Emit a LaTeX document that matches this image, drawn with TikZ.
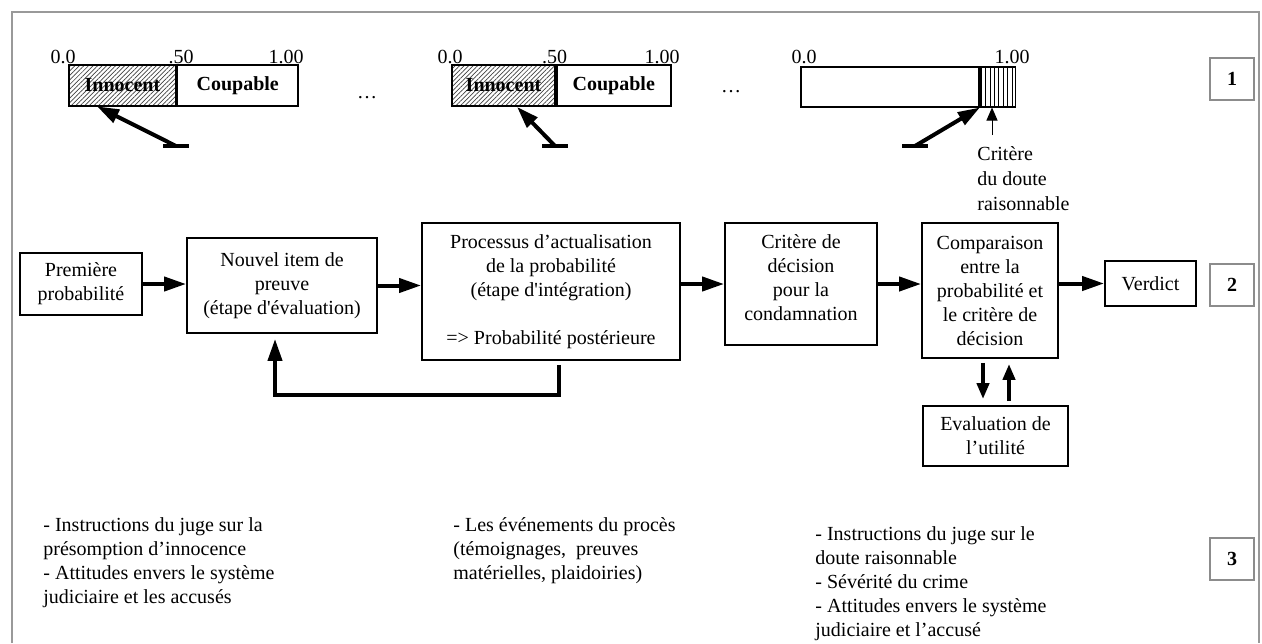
\documentclass[tikz,border=0pt]{standalone}
\usepackage{fontspec}
\setmainfont{Liberation Serif}
\usetikzlibrary{arrows.meta,positioning,patterns.meta}

\begin{document}
\begin{tikzpicture}[x=0.5pt,y=-0.5pt,font=\fontsize{10}{12}\selectfont,
	box_node/.style={draw,line width=0.9pt,align=center,inner sep=0pt},
	num_node/.style={draw=black!45,line width=1pt,minimum width=22pt,minimum height=21pt,inner sep=0pt,font=\fontsize{10}{12}\selectfont\bfseries},
	bar_node/.style={draw,line width=0.9pt,minimum height=20.5pt,inner sep=0pt,font=\fontsize{10}{12}\selectfont\bfseries},
	scale_label/.style={anchor=base,inner sep=0pt},
	note_text/.style={anchor=north west,align=left,inner sep=0pt},
	big_arrow/.style={line width=2pt,-{Triangle[length=11pt,width=7pt]}},
	small_arrow/.style={line width=2pt,-{Triangle[length=8pt,width=6pt]}},
	thin_arrow/.style={line width=0.5pt,-{Triangle[length=6.5pt,width=5.5pt]}},
	t_bar/.style={line width=2pt}]
		
		\useasboundingbox (0,0) rectangle (1262,643);
		\draw[black!40,line width=1pt] (12,643) -- (12,12) -- (1259,12) -- (1259,643);
		
		\node[bar_node,minimum width=53.5pt,pattern={Lines[angle=45,distance=1.6pt,line width=0.35pt]},pattern color=black!75] (innocent1) at (122.5,85.5) {Innocent};
		\node[bar_node,minimum width=60.5pt,right=0pt of innocent1] (coupable1) {Coupable};
		\node[scale_label] (zero1) at (63,63) {0.0};
		\node[scale_label] (half1) at (181,63) {.50};
		\node[scale_label] (one1) at (286,63) {1.00};
		\node[scale_label] (dots1) at (367,98) {…};
		
		\node[bar_node,minimum width=51.5pt,pattern={Lines[angle=45,distance=1.6pt,line width=0.35pt]},pattern color=black!75] (innocent2) at (503.5,85.5) {Innocent};
		\node[bar_node,minimum width=57pt,right=0pt of innocent2] (coupable2) {Coupable};
		\node[scale_label] (zero2) at (450,63) {0.0};
		\node[scale_label] (half2) at (554.5,63) {.50};
		\node[scale_label] (one2) at (662,63) {1.00};
		\node[scale_label] (dots2) at (731,92) {…};
		
		\node[bar_node,minimum width=89pt,minimum height=20pt] (bar3) at (890,87) {};
		\node[bar_node,minimum width=17.5pt,minimum height=20pt,right=0pt of bar3,pattern={Lines[angle=90,distance=2.2pt,line width=0.5pt]}] (crit3) {};
		\node[scale_label] (zero3) at (804,63) {0.0};
		\node[scale_label] (one3) at (1012,63) {1.00};
		
		\coordinate (foot1) at (176,146);
		\coordinate (foot2) at (555,146);
		\coordinate (foot3) at (915,146);
		\draw[t_bar] ([xshift=-6.5pt]foot1) -- ([xshift=6.5pt]foot1);
		\draw[t_bar] ([xshift=-6.5pt]foot2) -- ([xshift=6.5pt]foot2);
		\draw[t_bar] ([xshift=-6.5pt]foot3) -- ([xshift=6.5pt]foot3);
		\draw[big_arrow] (foot1) -- ([xshift=-12.75pt]innocent1.south);
		\draw[big_arrow] (foot2) -- ([xshift=6.75pt]innocent2.south);
		\draw[big_arrow] (foot3) -- (crit3.south west);
		
		\node[note_text,font=\fontsize{10}{12.5}\selectfont] (doubt_label) at (977,146) {Critère\\du doute\\raisonnable};
		\coordinate (doubt_tail) at (992,135);
		\draw[thin_arrow] (doubt_tail) -- (doubt_tail |- crit3.south);
		
		\node[num_node] (num1) at (1232,79) {1};
		
		\node[box_node,minimum width=61pt,minimum height=31pt] (premiere) at (81,284) {Première\\probabilité};
		\node[box_node,minimum width=95pt,minimum height=47.5pt] (nouvel) at (282,285.5) {Nouvel item de\\preuve\\(étape d\textquotesingle évaluation)};
		\node[box_node,minimum width=129pt,minimum height=68.5pt] (processus) at (551,291.5) {Processus d’actualisation\\de la probabilité\\(étape d\textquotesingle intégration)\\[12pt]=> Probabilité postérieure};
		\node[box_node,minimum width=76pt,minimum height=61pt] (critere) at (801,284) {Critère de\\décision\\pour la\\condamnation\\[-6pt]\mbox{}};
		\node[box_node,minimum width=68pt,minimum height=67.5pt] (comparaison) at (990,290.5) {Comparaison\\entre la\\probabilité et\\le critère de\\décision};
		\node[box_node,minimum width=45.5pt,minimum height=22.5pt] (verdict) at (1150.5,283.5) {Verdict};
		\node[box_node,minimum width=72.5pt,minimum height=30pt] (utilite) at (995.5,436) {Evaluation de\\l’utilité};
		\node[num_node] (num2) at (1232,284.5) {2};
		
		\draw[big_arrow] (premiere.east) -- (premiere.east -| nouvel.west);
		\draw[big_arrow] (nouvel.east) -- (nouvel.east -| processus.west);
		\draw[big_arrow] (critere.west -| processus.east) -- (critere.west);
		\draw[big_arrow] (critere.east) -- (critere.east -| comparaison.west);
		\draw[big_arrow] (verdict.west -| comparaison.east) -- (verdict.west);
		
		\coordinate (loop_right) at (559,395);
		\coordinate (loop_left) at (275,395);
		\draw[big_arrow,shorten <=2pt,shorten >=2.5pt] (processus.south -| loop_right) |- (loop_left) -- (nouvel.south -| loop_left);
		
		\coordinate (down_x) at (983,0);
		\coordinate (up_x) at (1009,0);
		\draw[small_arrow,shorten <=2pt,shorten >=3pt] (comparaison.south -| down_x) -- (utilite.north -| down_x);
		\draw[small_arrow,shorten <=2pt,shorten >=2.5pt] (utilite.north -| up_x) -- (comparaison.south -| up_x);
		
		\node[note_text] (notes_left) at (43,517) {- Instructions du juge sur la\\présomption d’innocence\\- Attitudes envers le système\\judiciaire et les accusés};
		\node[note_text] (notes_mid) at (453,517) {- Les événements du procès\\(témoignages,\ \ preuves\\matérielles, plaidoiries)};
		\node[note_text] (notes_right) at (815,526) {- Instructions du juge sur le\\doute raisonnable\\- Sévérité du crime\\- Attitudes envers le système\\judiciaire et l’accusé};
		\node[num_node] (num3) at (1232,559) {3};
		
\end{tikzpicture}
\end{document}
